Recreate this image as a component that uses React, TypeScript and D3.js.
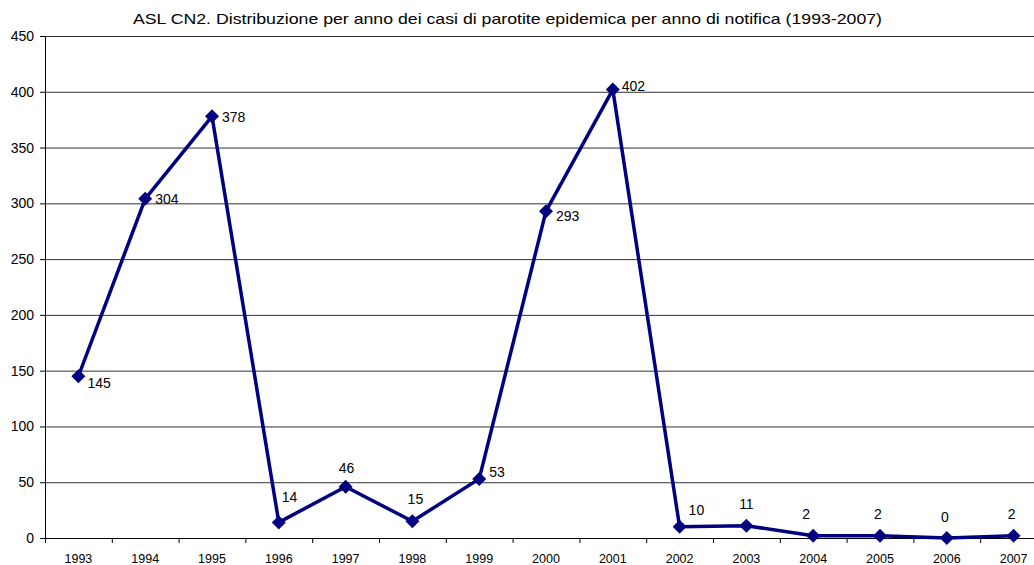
import React from "react";
import * as d3 from "d3";

const years = ["1993","1994","1995","1996","1997","1998","1999","2000","2001","2002","2003","2004","2005","2006","2007"];
const cases = [145,304,378,14,46,15,53,293,402,10,11,2,2,0,2];
const yTicks = [0,50,100,150,200,250,300,350,400,450];
const labelOffsets: [number, number, string][] = [
  [9,7,"start"],[10,0,"start"],[10,1,"start"],[3,-25,"start"],[1,-19,"middle"],[3,-22,"middle"],[10,-7,"start"],
  [10,5,"start"],[9,-4,"start"],[9,-17,"start"],[0,-22,"middle"],[-7,-22,"middle"],[-2,-22,"middle"],[-2,-21,"middle"],[-2,-22,"middle"]
];
const title = "ASL CN2. Distribuzione per anno dei casi di parotite epidemica per anno di notifica (1993-2007)";

export default function App() {
  const W = 1034, H = 565;
  const left = 45, bw = 66.8;
  const x = d3.scaleBand<string>().domain(years).range([left, left + bw * years.length]).padding(0);
  const y = d3.scaleLinear().domain([0, 450]).range([538, 36]);
  const cx = (d: string) => (x(d) as number) + x.bandwidth() / 2;
  const line = d3.line<number>().x((_, i) => cx(years[i])).y(d => y(d));
  const font = "'Liberation Sans', Arial, Helvetica, sans-serif";
  return (
    <svg width={W} height={H} style={{ position: "fixed", left: 0, top: 0, background: "#fff" }} fontFamily={font}>
      <rect width={W} height={H} fill="#fff" />
      <text x={133} y={24} fontSize={15} fill="#000" textLength={749} lengthAdjust="spacingAndGlyphs">{title}</text>
      {yTicks.map(t => (
        <g key={t}>
          {t > 0 && <line x1={left} x2={W} y1={y(t) + 0.5} y2={y(t) + 0.5} stroke="#333" strokeWidth={1} />}
          <line x1={left - 5} x2={left} y1={y(t) + 0.5} y2={y(t) + 0.5} stroke="#000" />
          <text x={34} y={y(t) + 5} textAnchor="end" fontSize={14} fill="#000">{t}</text>
        </g>
      ))}
      <line x1={left + 0.5} x2={left + 0.5} y1={y(450)} y2={y(0)} stroke="#000" />
      <line x1={left} x2={W} y1={y(0) + 0.5} y2={y(0) + 0.5} stroke="#000" />
      {years.map((yr) => (
        <g key={yr}>
          <line x1={(x(yr) as number) + 0.5} x2={(x(yr) as number) + 0.5} y1={y(0)} y2={y(0) + 5} stroke="#000" />
          <text x={cx(yr)} y={562.5} textAnchor="middle" fontSize={12.5} fill="#000">{yr}</text>
        </g>
      ))}
      <path d={line(cases) || ""} fill="none" stroke="#000080" strokeWidth={3.5} strokeLinejoin="round" />
      {cases.map((v, i) => {
        const px = cx(years[i]), py = y(v), s = 7;
        return <path key={i} d={`M${px},${py - s}L${px + s},${py}L${px},${py + s}L${px - s},${py}Z`} fill="#000080" />;
      })}
      {cases.map((v, i) => {
        const [dx, dy, anchor] = labelOffsets[i];
        return (
          <text key={"l" + i} x={cx(years[i]) + dx} y={y(v) + dy + 5} textAnchor={anchor as any} fontSize={14} fill="#000">{v}</text>
        );
      })}
    </svg>
  );
}
